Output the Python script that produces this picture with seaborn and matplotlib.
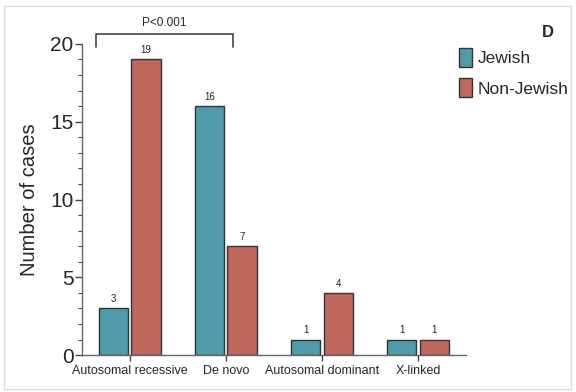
import matplotlib
matplotlib.use("Agg")
import matplotlib.pyplot as plt
import seaborn as sns
import pandas as pd
from matplotlib.patches import Rectangle
from matplotlib.ticker import MultipleLocator

categories = ["Autosomal recessive", "De novo", "Autosomal dominant", "X-linked"]
jewish = [3, 16, 1, 1]
non_jewish = [19, 7, 4, 1]
groups = ["Jewish", "Non-Jewish"]
colors = ["#4f9ca8", "#c0675e"]

df = pd.DataFrame({
    "category": categories * 2,
    "group": [groups[0]] * 4 + [groups[1]] * 4,
    "cases": jewish + non_jewish,
})

sns.set_style("ticks")
plt.rcParams["font.family"] = ["Liberation Sans", "DejaVu Sans"]

fig = plt.figure(figsize=(5.76, 3.92), dpi=100)
ax = fig.add_axes([0.142, 0.094, 0.667, 0.794])

sns.barplot(data=df, x="category", y="cases", hue="group", order=categories,
            hue_order=groups, palette=colors, saturation=1, width=0.68, gap=0.1,
            edgecolor="#333333", linewidth=1.0, ax=ax, legend=True)

for cont in ax.containers:
    ax.bar_label(cont, fontsize=7, padding=3, color="#222222")

ax.set_xlim(-0.5, 3.5)
ax.set_ylim(0, 20)
ax.set_yticks([0, 5, 10, 15, 20])
ax.yaxis.set_minor_locator(MultipleLocator(1))
ax.tick_params(axis="y", which="major", labelsize=15, length=5, width=1, pad=1, color="#444444")
ax.tick_params(axis="y", which="minor", length=3, width=0.8, color="#444444")
ax.tick_params(axis="x", labelsize=9, length=4, width=1, color="#444444", pad=3)
ax.set_xlabel("")
ax.set_ylabel("Number of cases", fontsize=14.5, labelpad=8)
for s in ["top", "right"]:
    ax.spines[s].set_visible(False)
for s in ["left", "bottom"]:
    ax.spines[s].set_color("#666666")
    ax.spines[s].set_linewidth(1.0)

# significance bracket
bx0, bx1 = -0.35, 1.07
ax.plot([bx0, bx0, bx1, bx1], [19.8, 20.65, 20.65, 19.8], color="#444444",
        lw=1.2, clip_on=False)
ax.text((bx0 + bx1) / 2, 20.95, "P<0.001", ha="center", va="bottom", fontsize=8.5)

leg = ax.legend(loc="upper left", bbox_to_anchor=(0.963, 1.01), frameon=False,
                fontsize=12.5, handlelength=0.75, handleheight=1.35, handletextpad=0.35,
                labelspacing=0.62, borderaxespad=0)

fig.text(0.952, 0.918, "D", fontsize=12, fontweight="bold", ha="center", va="center")

fig.patches.append(Rectangle((4 / 576, 3 / 392), 567 / 576, 383 / 392,
                             transform=fig.transFigure, fill=False,
                             edgecolor="#dddddd", linewidth=1.0))

fig.savefig("out.png", dpi=100)
